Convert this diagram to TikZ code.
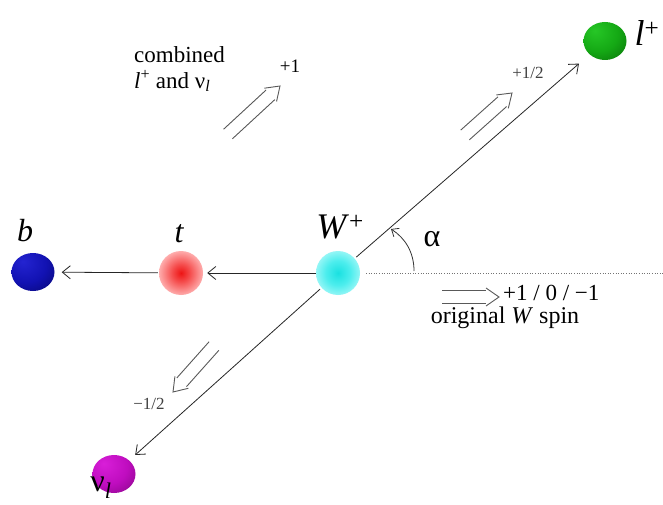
\documentclass[tikz,border=0pt]{standalone}
\usepackage{fontspec}
\setmainfont{Liberation Serif}
\usetikzlibrary{arrows.meta,shapes.geometric,calc}
\pgfdeclareradialshading{blueball}{\pgfpoint{-12bp}{14bp}}{rgb(0bp)=(0.14,0.14,0.82); rgb(24bp)=(0.07,0.07,0.7); rgb(48bp)=(0.02,0.02,0.42); rgb(64bp)=(0,0,0.16); rgb(90bp)=(0,0,0.16)}
\pgfdeclareradialshading{greenball}{\pgfpoint{-12bp}{14bp}}{rgb(0bp)=(0.15,0.78,0.15); rgb(24bp)=(0.08,0.66,0.08); rgb(48bp)=(0.03,0.42,0.03); rgb(64bp)=(0,0.16,0); rgb(90bp)=(0,0.16,0)}
\pgfdeclareradialshading{purpleball}{\pgfpoint{-12bp}{14bp}}{rgb(0bp)=(0.85,0.12,0.85); rgb(24bp)=(0.75,0.05,0.75); rgb(48bp)=(0.5,0.02,0.5); rgb(64bp)=(0.25,0,0.25); rgb(90bp)=(0.25,0,0.25)}
\pgfdeclareradialshading{redblob}{\pgfpoint{0bp}{0bp}}{rgb(0bp)=(0.93,0.08,0.08); rgb(10bp)=(0.96,0.3,0.3); rgb(26bp)=(1,0.7,0.7); rgb(44bp)=(1,0.97,0.97); rgb(50bp)=(1,1,1)}
\pgfdeclareradialshading{cyanblob}{\pgfpoint{0bp}{0bp}}{rgb(0bp)=(0.1,0.88,0.88); rgb(14bp)=(0.3,0.93,0.93); rgb(30bp)=(0.7,0.98,0.98); rgb(46bp)=(0.97,1,1); rgb(50bp)=(1,1,1)}
\newcommand{\spinarrow}[2]{%
  \path ($(#2)!13pt!(#1)$) coordinate (tmpB);
  \draw[dl] ($(#1)!6.5pt!90:(#2)$) -- ($(tmpB)!6.5pt!-90:(#1)$);
  \draw[dl] ($(#1)!6.5pt!-90:(#2)$) -- ($(tmpB)!6.5pt!90:(#1)$);
  \draw[dl] ($(tmpB)!9pt!-90:(#1)$) -- (#2) -- ($(tmpB)!9pt!90:(#1)$);
}
\begin{document}
\begin{tikzpicture}[x=1pt,y=-1pt,
  ball/.style={ellipse, minimum width=43pt, minimum height=38pt, inner sep=0pt},
  blob/.style={circle, minimum size=44pt, inner sep=0pt},
  lab/.style={inner sep=0pt, text=black},
  arr/.style={draw=black!85, line width=0.8pt, -{Straight Barb[length=8pt,width=13pt,line width=0.8pt]}},
  dl/.style={draw=black!65, line width=0.9pt, line join=miter},
  big/.style={font=\fontsize{32}{36}\selectfont},
  mid/.style={font=\fontsize{23}{27}\selectfont},
  small/.style={font=\fontsize{17}{20}\selectfont, text=black!75}
]
\useasboundingbox[fill=white] (0,0) rectangle (663,505);

% particles
\node[ball, shading=blueball] (b) at (33,272) {};
\node[ball, shading=greenball] (l) at (605,41) {};
\node[ball, shading=purpleball] (nu) at (114,474) {};
\node[blob, shading=redblob] (t) at (181,273) {};
\node[blob, shading=cyanblob] (W) at (338,273) {};

% labels
\node[lab, big] (lb) at (25,231) {\itshape b};
\node[lab, big] (lt) at (179,234) {\itshape t};
\node[lab, font=\fontsize{36}{40}\selectfont] (lW) at (340,227) {\textit{W}\textsuperscript{+}};
\node[lab, font=\fontsize{36}{40}\selectfont] (ll) at (647,33) {\textit{l}\textsuperscript{+}};
\node[lab, big] (lnu) at (101,488) {ν\textsubscript{\itshape l}};
\node[lab, font=\fontsize{32}{36}\selectfont] (la) at (432,239) {α};

% decay lines
\draw[arr, shorten <=1pt, shorten >=7pt] (t) -- (b);
\draw[arr, shorten >=4pt] (W) -- (t);
\draw[arr, shorten <=2pt, shorten >=14pt] (W) -- (l);
\draw[arr, shorten <=2pt, shorten >=8pt] (W) -- (nu);

% W spin axis
\coordinate (ax0) at (366,273);
\coordinate (ax1) at (663,273);
\draw[black!55, line width=0.7pt, dash pattern=on 1pt off 1.6pt] (ax0) -- (ax1);

% angle
\coordinate (a1) at (414,271);
\coordinate (a2) at (391,229);
\draw[black!80, line width=0.8pt, -{Straight Barb[length=6pt,width=10pt,line width=0.8pt]}] (a1) .. controls (414,252) and (405,238) .. (a2);

% spin arrows
\coordinate (s1a) at (228,134); \coordinate (s1b) at (280,86);
\spinarrow{s1a}{s1b}
\coordinate (s2a) at (465,135); \coordinate (s2b) at (512,93);
\spinarrow{s2a}{s2b}
\coordinate (s3a) at (214,346); \coordinate (s3b) at (173,392);
\spinarrow{s3a}{s3b}
\coordinate (s4a) at (442,297); \coordinate (s4b) at (499,297);
\spinarrow{s4a}{s4b}

% spin texts
\node[lab, mid, anchor=west, align=left] (comb) at (134,69) {combined\\[-1pt]\textit{l}\textsuperscript{+} and ν\textsubscript{\itshape l}};
\node[lab, font=\fontsize{19}{22}\selectfont] (p1) at (290,66) {+1};
\node[lab, small] (ph) at (528,73) {+1/2};
\node[lab, small] (mh) at (149,404) {−1/2};
\node[lab, mid, anchor=west] (pz) at (503,293) {+1 / 0 / −1};
\node[lab, font=\fontsize{24}{28}\selectfont] (ows) at (505,318) {original \textit{W} spin};
\end{tikzpicture}
\end{document}
